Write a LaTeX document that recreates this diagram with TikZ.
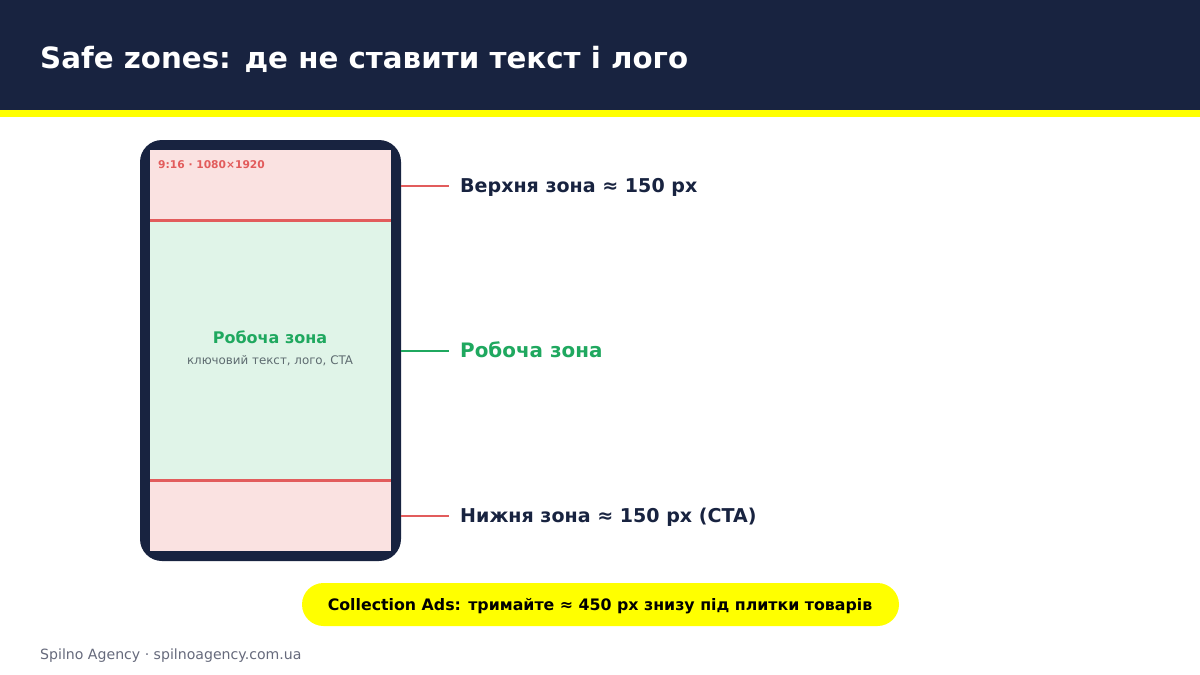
\documentclass[tikz,border=0pt]{standalone}
\usepackage{fontspec}
\setmainfont{DejaVu Sans}
\definecolor{navy}{HTML}{182340}
\definecolor{yel}{HTML}{FFFF00}
\definecolor{redz}{HTML}{E25C5C}
\definecolor{pinkz}{HTML}{FAE2E1}
\definecolor{greenz}{HTML}{E0F4E8}
\definecolor{greent}{HTML}{1FA85F}
\definecolor{greyt}{HTML}{5E6B70}
\definecolor{foot}{HTML}{666A7C}
\tikzset{x=1pt,y=-1pt,
 base/.style={inner sep=0pt,anchor=base west},
 txt/.style={base,text=navy,font=\bfseries\fontsize{19.05}{22}\selectfont},
 zone/.style={inner sep=0pt,outer sep=0pt,minimum width=241pt,anchor=north west},
 lead/.style={line width=2pt}}
\begin{document}
\begin{tikzpicture}
\useasboundingbox (0,0) rectangle (1200,675);
\fill[white] (0,0) rectangle (1200,675);
\fill[navy] (0,0) rectangle (1200,110);
\fill[yel] (0,110) rectangle (1200,117);
\node[base,text=white,font=\bfseries\fontsize{29.3}{34}\selectfont] (title) at (40,68) {Safe zones: де не ставити текст і лого};
\node[fill=navy,rounded corners=22pt,inner sep=0pt,outer sep=0pt,minimum width=261pt,minimum height=421pt] (phone) at (270.5,350.5) {};
\node[zone,fill=pinkz,minimum height=401pt] (safe) at (150,150) {};
\node[zone,fill=greenz,minimum height=261pt] (work) at (150,220) {};
\draw[redz,line width=3pt] (work.north west |- 0,220.5) -- (work.north east |- 0,220.5);
\draw[redz,line width=3pt] (work.north west |- 0,480.5) -- (work.north east |- 0,480.5);
\node[base,text=redz,font=\bfseries\fontsize{10.7}{12}\selectfont] (dim) at (158,168) {9:16 · 1080×1920};
\node[inner sep=0pt,anchor=base,text=greent,font=\bfseries\fontsize{16}{18}\selectfont] (wz) at (270,343) {Робоча зона};
\node[inner sep=0pt,anchor=base,text=greyt,font=\fontsize{11.85}{13}\selectfont] (wzs) at (270,364) {ключовий текст, лого, CTA};
\node[txt] (lt) at (460,192) {Верхня зона ≈ 150 px};
\node[txt,text=greent,font=\bfseries\fontsize{19.9}{22}\selectfont] (lm) at (460,357) {Робоча зона};
\node[txt] (lb) at (460,522) {Нижня зона ≈ 150 px (CTA)};
\coordinate (bt) at (449,186);
\coordinate (bm) at (449,351);
\coordinate (bb) at (449,516);
\draw[lead,redz] (phone.east |- bt) -- (bt);
\draw[lead,greent] (phone.east |- bm) -- (bm);
\draw[lead,redz] (phone.east |- bb) -- (bb);
\node[fill=yel,rounded corners=21.5pt,minimum width=597pt,minimum height=43pt,inner sep=0pt] (pill) at (600.5,604.5) {};
\node[inner sep=0pt,anchor=base,text=black,font=\bfseries\fontsize{15.8}{18}\selectfont] (pilltxt) at (600,610) {Collection Ads: тримайте ≈ 450 px знизу під плитки товарів};
\node[base,text=foot,font=\fontsize{14.1}{16}\selectfont] (ft) at (40,659) {Spilno Agency · spilnoagency.com.ua};
\end{tikzpicture}
\end{document}
